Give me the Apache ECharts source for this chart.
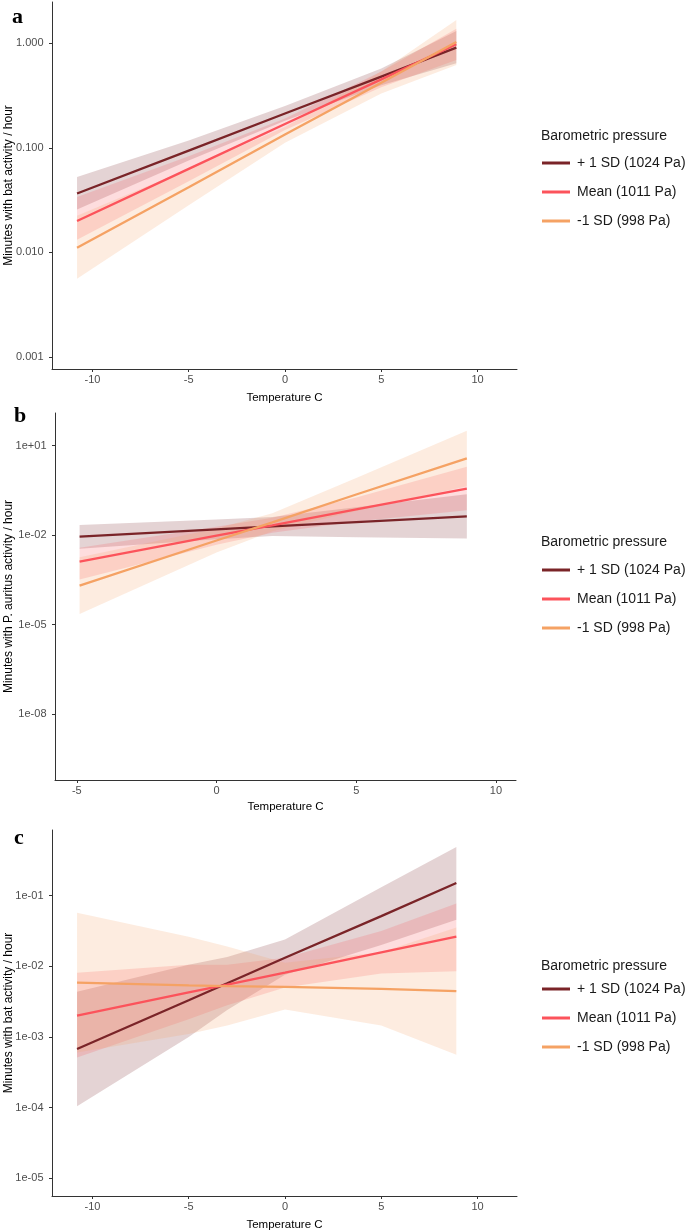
<!DOCTYPE html>
<html><head><meta charset="utf-8">
<script src="https://cdn.jsdelivr.net/npm/echarts@6/dist/echarts.min.js"></script>
<style>html,body{margin:0;padding:0;background:#fff}#c{width:685px;height:1232px}</style>
</head><body><div id="c"></div><script>
// ---------- shared ----------
const seriesNames = ['+ 1 SD (1024 Pa)', 'Mean (1011 Pa)', '-1 SD (998 Pa)'];
const lineColors = ['#7A2428', '#FC535B', '#F5A264'];
const bandColors = ['rgba(122,36,40,0.2)', 'rgba(252,83,91,0.2)', 'rgba(245,162,100,0.2)'];
const legendTitle = 'Barometric pressure';
const xTitle = 'Temperature C';

// ---------- panel a ----------
const aTemp = [-10.8, -5, 0, 5, 8.9];
const aHigh = [0.0366, 0.094, 0.213, 0.48, 0.908];
const aMean = [0.020, 0.063, 0.169, 0.452, 0.98];
const aLow  = [0.0111, 0.042, 0.134, 0.42, 1.03];
const aHighLo = [0.0257, 0.0759, 0.182, 0.398, 0.646];
const aHighHi = [0.0527, 0.1175, 0.251, 0.575, 1.31];
const aMeanLo = [0.0132, 0.0479, 0.148, 0.380, 0.692];
const aMeanHi = [0.0339, 0.0832, 0.191, 0.537, 1.38];
const aLowLo  = [0.0056, 0.0282, 0.112, 0.331, 0.621];
const aLowHi  = [0.0224, 0.0631, 0.158, 0.537, 1.67];
const aXTicks = [-10, -5, 0, 5, 10];
const aYTicks = [0.001, 0.01, 0.1, 1];
const aYTitle = 'Minutes with bat activity / hour';

// ---------- panel b ----------
const bTemp = [-4.9, 0, 2, 5, 8.96];
const bHigh = [0.0089, 0.0155, 0.0195, 0.0272, 0.0427];
const bMean = [0.00129, 0.00955, 0.0214, 0.0724, 0.363];
const bLow  = [0.000204, 0.0066, 0.0269, 0.229, 3.72];
const bHighLo = [0.00347, 0.00724, 0.00933, 0.00851, 0.00776];
const bHighHi = [0.0219, 0.0331, 0.0407, 0.0851, 0.234];
const bMeanLo = [0.000324, 0.00479, 0.0120, 0.0288, 0.0676];
const bMeanHi = [0.0038, 0.0191, 0.038, 0.182, 1.95];
const bLowLo  = [0.0000229, 0.00263, 0.0135, 0.0646, 0.437];
const bLowHi  = [0.00182, 0.0166, 0.0537, 0.813, 31.6];
const bXTicks = [-5, 0, 5, 10];
const bYTicks = [1e-8, 1e-5, 1e-2, 10];
const bYTitle = 'Minutes with P. auritus activity / hour';

// ---------- panel c ----------
const cTemp = [-10.8, -5, -3, 0, 5, 8.9];
const cHigh = [0.000676, 0.00331, 0.00575, 0.0132, 0.0513, 0.151];
const cMean = [0.002, 0.00427, 0.0055, 0.00813, 0.0158, 0.0263];
const cLow  = [0.00589, 0.00537, 0.00525, 0.00513, 0.00479, 0.00447];
const cHighLo = [0.000105, 0.001, 0.0024, 0.00759, 0.02, 0.0457];
const cHighHi = [0.00437, 0.0105, 0.0135, 0.024, 0.132, 0.49];
const cMeanLo = [0.000513, 0.00178, 0.00282, 0.00501, 0.00794, 0.00851];
const cMeanHi = [0.00813, 0.0105, 0.0105, 0.0132, 0.0316, 0.0776];
const cLowLo  = [0.000603, 0.0011, 0.00145, 0.00245, 0.00145, 0.000562];
const cLowHi  = [0.0575, 0.0263, 0.0191, 0.0112, 0.0158, 0.0355];
const cXTicks = [-10, -5, 0, 5, 10];
const cYTicks = [1e-5, 1e-4, 1e-3, 1e-2, 1e-1];
const cYTitle = 'Minutes with bat activity / hour';

// ---------- layout ----------
const panels = [
  { letter: 'a', temp: aTemp, lines: [aHigh, aMean, aLow], bands: [[aHighLo, aHighHi], [aMeanLo, aMeanHi], [aLowLo, aLowHi]],
    xTicks: aXTicks, yTicks: aYTicks, yTitle: aYTitle,
    grid: { left: 52, top: 2, width: 465, height: 367 }, xMin: -12.1, xMax: 12.05, yMin: Math.pow(10, -3.115), yMax: Math.pow(10, 0.395),
    fmt: v => v.toFixed(3), nameGap: 37, letterPos: [12, 6], legTop: 129, legItemsTop: 156, xNameGap: 22.5 },
  { letter: 'b', temp: bTemp, lines: [bHigh, bMean, bLow], bands: [[bHighLo, bHighHi], [bMeanLo, bMeanHi], [bLowLo, bLowHi]],
    xTicks: bXTicks, yTicks: bYTicks, yTitle: bYTitle,
    grid: { left: 55, top: 413, width: 461, height: 367 }, xMin: -5.78, xMax: 10.72, yMin: Math.pow(10, -10.2), yMax: Math.pow(10, 2.09),
    fmt: expFmt, nameGap: 40, letterPos: [14, 405], legTop: 535, legItemsTop: 563, xNameGap: 20.5 },
  { letter: 'c', temp: cTemp, lines: [cHigh, cMean, cLow], bands: [[cHighLo, cHighHi], [cMeanLo, cMeanHi], [cLowLo, cLowHi]],
    xTicks: cXTicks, yTicks: cYTicks, yTitle: cYTitle,
    grid: { left: 52, top: 830, width: 465, height: 366 }, xMin: -12.1, xMax: 12.05, yMin: Math.pow(10, -5.25), yMax: Math.pow(10, -0.071),
    fmt: expFmt, nameGap: 37, letterPos: [14, 827], legTop: 959, legItemsTop: 982, xNameGap: 22.5 }
];

function expFmt(v) {
  const e = Math.round(Math.log10(v));
  return '1e' + (e < 0 ? '-' : '+') + String(Math.abs(e)).padStart(2, '0');
}

const FONT = 'Liberation Sans, Arial, sans-serif';
const axisLine = { show: true, onZero: false, lineStyle: { color: '#333', width: 1 } };
const axisTick = { show: true, length: 3, lineStyle: { color: '#333', width: 1 } };

const option = { animation: false, backgroundColor: '#fff', grid: [], xAxis: [], yAxis: [], series: [], title: [], legend: [] };

panels.forEach((p, i) => {
  option.grid.push(Object.assign({ containLabel: false, outerBoundsMode: 'none' }, p.grid));
  option.xAxis.push({
    type: 'value', gridIndex: i, min: p.xMin, max: p.xMax, position: 'bottom',
    name: xTitle, nameLocation: 'middle', nameGap: p.xNameGap, nameMoveOverlap: false,
    nameTextStyle: { color: '#000', fontSize: 11.5, fontFamily: FONT },
    axisLine, axisTick: Object.assign({ customValues: p.xTicks }, axisTick),
    axisLabel: { customValues: p.xTicks, color: '#4D4D4D', fontSize: 11, fontFamily: FONT, margin: 5 },
    splitLine: { show: false }
  });
  option.yAxis.push({
    type: 'log', logBase: 10, gridIndex: i, min: p.yMin, max: p.yMax, position: 'left',
    name: p.yTitle, nameLocation: 'middle', nameGap: p.nameGap, nameMoveOverlap: false,
    nameTextStyle: { color: '#000', fontSize: 12, fontFamily: FONT },
    axisLine, axisTick: Object.assign({ customValues: p.yTicks }, axisTick),
    axisLabel: { customValues: p.yTicks, formatter: p.fmt, color: '#4D4D4D', fontSize: 11, fontFamily: FONT, margin: 8.5 },
    splitLine: { show: false }, minorTick: { show: false }
  });
  p.bands.forEach((b, k) => {
    const lo = b[0], hi = b[1], xs = p.temp;
    option.series.push({
      type: 'custom', name: 'band-' + i + '-' + k, xAxisIndex: i, yAxisIndex: i, z: 1, silent: true,
      data: xs.map((t, j) => [t, lo[j], hi[j]]),
      encode: { x: 0, y: [1, 2] },
      renderItem: function (params, api) {
        if (params.dataIndex !== 0) return null;
        const pts = [];
        for (let j = 0; j < xs.length; j++) pts.push(api.coord([xs[j], hi[j]]));
        for (let j = xs.length - 1; j >= 0; j--) pts.push(api.coord([xs[j], lo[j]]));
        return { type: 'polygon', shape: { points: pts, smooth: 0 }, style: { fill: bandColors[k], stroke: null } };
      }
    });
  });
  p.lines.forEach((vals, k) => {
    option.series.push({
      type: 'line', name: seriesNames[k], xAxisIndex: i, yAxisIndex: i, z: 3,
      data: p.temp.map((t, j) => [t, vals[j]]),
      showSymbol: false, symbol: 'none', color: lineColors[k],
      lineStyle: { color: lineColors[k], width: 2.3 }
    });
  });
  option.title.push({
    text: p.letter, left: p.letterPos[0], top: p.letterPos[1], padding: 0,
    textStyle: { fontFamily: 'Liberation Serif, Times New Roman, serif', fontWeight: 'bold', fontSize: 22, color: '#000' }
  });
  option.title.push({
    text: legendTitle, left: 541, top: p.legTop, padding: 0,
    textStyle: { fontFamily: FONT, fontWeight: 'normal', fontSize: 14, color: '#1a1a1a' }
  });
  option.legend.push({
    data: seriesNames, orient: 'vertical', left: 542, top: p.legItemsTop, padding: 0,
    icon: 'rect', itemWidth: 28, itemHeight: 3, itemGap: 15, selectedMode: false,
    textStyle: { fontFamily: FONT, fontSize: 14, color: '#1a1a1a', padding: [0, 0, 0, 2] }
  });
});

const chart = echarts.init(document.getElementById('c'), null, { renderer: 'canvas' });
chart.setOption(option);
</script></body></html>
